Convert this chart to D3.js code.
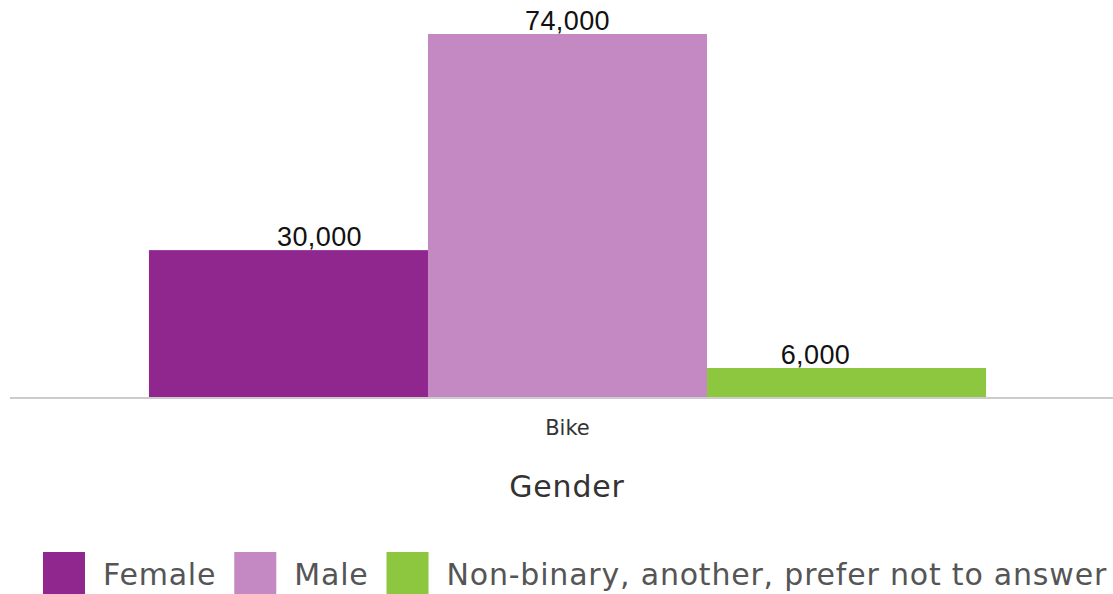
<!DOCTYPE html>
<html>
<head>
<meta charset="utf-8">
<script src="https://cdn.jsdelivr.net/npm/d3@7"></script>
<style>
  body { margin: 0; background: #fff; }
  svg { display: block; }
</style>
</head>
<body>
<svg id="chart" width="1113" height="594"></svg>
<script>
const categories = ["Bike"];
const series = ["Female", "Male", "Non-binary, another, prefer not to answer"];
const female = [30000];
const male = [74000];
const nonBinary = [6000];
const colors = ["#90278e", "#c488c2", "#8dc63f"];

const svg = d3.select("#chart"),
  width = +svg.attr("width"),
  height = +svg.attr("height");

const baseY = 397.5;
const uiFont = "DejaVu Sans, sans-serif";

const rows = categories.map((c, i) => ({
  category: c,
  values: [female[i], male[i], nonBinary[i]]
}));

const x0 = d3.scaleBand()
  .domain(categories)
  .range([10, 1125])
  .paddingOuter(0.166)
  .paddingInner(0);

const x1 = d3.scaleBand()
  .domain(series)
  .range([0, x0.bandwidth()])
  .padding(0);

// value labels sit a bit closer to the group centre than the bars do
const x1Label = d3.scalePoint()
  .domain(series)
  .range([x0.bandwidth() / 2 - 248, x0.bandwidth() / 2 + 248]);

const y = d3.scaleLinear()
  .domain([0, 74000])
  .range([baseY, 34]);

const color = d3.scaleOrdinal().domain(series).range(colors);

// bars
const groups = svg.selectAll("g.cat")
  .data(rows)
  .join("g")
  .attr("class", "cat")
  .attr("transform", d => `translate(${x0(d.category)},0)`);

groups.selectAll("rect")
  .data(d => d.values.map((v, j) => ({ key: series[j], value: v })))
  .join("rect")
  .attr("x", d => x1(d.key))
  .attr("y", d => y(d.value))
  .attr("width", x1.bandwidth())
  .attr("height", d => baseY - y(d.value))
  .attr("fill", d => color(d.key));

groups.selectAll("text.val")
  .data(d => d.values.map((v, j) => ({ key: series[j], value: v })))
  .join("text")
  .attr("class", "val")
  .attr("x", d => x1Label(d.key))
  .attr("y", d => y(d.value) - 4.5)
  .attr("text-anchor", "middle")
  .attr("font-family", "Liberation Sans, Arial, sans-serif")
  .attr("font-size", 27)
  .attr("letter-spacing", 0.4)
  .attr("fill", "#111")
  .text(d => d3.format(",")(d.value));

// baseline / x axis
svg.append("line")
  .attr("x1", 10)
  .attr("x2", width)
  .attr("y1", baseY + 0.5)
  .attr("y2", baseY + 0.5)
  .attr("stroke", "#cccccc")
  .attr("stroke-width", 2);

svg.selectAll("text.cat")
  .data(categories)
  .join("text")
  .attr("class", "cat")
  .attr("x", d => x0(d) + x0.bandwidth() / 2)
  .attr("y", 435)
  .attr("text-anchor", "middle")
  .attr("font-family", uiFont)
  .attr("font-size", 21)
  .attr("fill", "#333")
  .text(d => d);

svg.append("text")
  .attr("x", 567)
  .attr("y", 497)
  .attr("text-anchor", "middle")
  .attr("font-family", uiFont)
  .attr("font-size", 30)
  .attr("letter-spacing", 0.8)
  .attr("fill", "#333")
  .text("Gender");

// legend
const legend = svg.append("g");
let lx = 0;
series.forEach(s => {
  const item = legend.append("g").attr("transform", `translate(${lx},0)`);
  item.append("rect")
    .attr("width", 42)
    .attr("height", 42)
    .attr("fill", color(s));
  const t = item.append("text")
    .attr("x", 60)
    .attr("y", 33)
    .attr("font-family", uiFont)
    .attr("font-size", 30)
    .attr("letter-spacing", 0.8)
    .attr("fill", "#555")
    .text(s);
  lx += 60 + t.node().getComputedTextLength() + 18;
});
const legendW = lx - 18;
legend.attr("transform", `translate(${(575 - legendW / 2)},552)`);
</script>
</body>
</html>
